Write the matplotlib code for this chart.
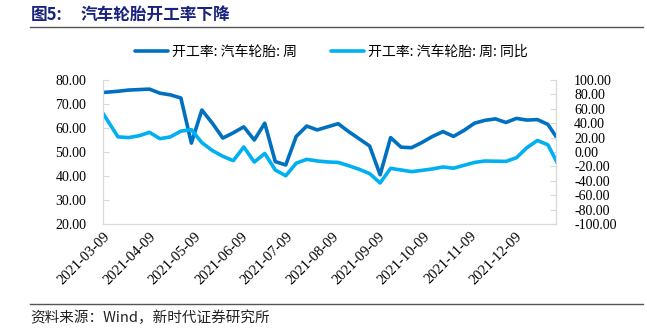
import pandas as pd
import numpy as np
import matplotlib
matplotlib.use('Agg')
from matplotlib import pyplot as plt
from matplotlib.lines import Line2D
import matplotlib.dates as mdates
from matplotlib.ticker import FormatStrFormatter

cjk = ['Noto Sans CJK SC', 'DejaVu Sans']
serif = ['Liberation Serif', 'DejaVu Serif']

# weekly observations (first one on 03-09, then weekly from 03-19)
dates = [pd.Timestamp('2021-03-09')] + list(pd.date_range('2021-03-19', periods=43, freq='7D'))

rate = [74.8, 75.3, 75.8, 76.0, 76.2, 74.5, 73.8, 72.5, 53.7, 67.5,
        62.0, 55.8, 58.0, 60.5, 55.0, 62.0, 46.0, 44.6, 56.5, 60.8,
        59.2, 60.5, 61.8, 58.5, 55.5, 52.5, 40.5, 56.0, 52.0, 51.8,
        54.0, 56.5, 58.5, 56.5, 59.0, 62.0, 63.2, 63.8, 62.3, 64.0,
        63.3, 63.5, 61.5, 55.0]

yoy = [53.7, 21.0, 20.0, 22.5, 27.3, 18.5, 21.0, 29.0, 31.0, 13.0,
       2.0, -6.0, -12.0, 7.0, -14.0, -2.0, -25.0, -33.0, -15.5, -10.2,
       -12.5, -13.8, -14.5, -19.0, -24.0, -30.0, -43.0, -22.7, -25.0, -27.3,
       -25.5, -23.5, -20.8, -22.5, -18.5, -14.5, -12.5, -12.8, -13.0, -8.0,
       6.0, 16.0, 10.0, -18.0]

tick_dates = pd.date_range('2021-03-01', periods=10, freq='MS') + pd.Timedelta(days=8)

fig = plt.figure(figsize=(6.47, 3.33), dpi=100)
ax = fig.add_axes([103/647, 1-224/333, (556-103)/647, (224-80)/333])
ax2 = ax.twinx()

l1, = ax.plot(dates, rate, color='#0070c0', lw=2.6, solid_joinstyle='round', solid_capstyle='round')
l2, = ax2.plot(dates, yoy, color='#00b0f0', lw=2.6, solid_joinstyle='round', solid_capstyle='round')

ax.set_ylim(20, 80)
ax.set_yticks(np.arange(20, 81, 10))
ax2.set_ylim(-100, 100)
ax2.set_yticks(np.arange(-100, 101, 20))
ax.yaxis.set_major_formatter(FormatStrFormatter('%.2f'))
ax2.yaxis.set_major_formatter(FormatStrFormatter('%.2f'))
ax.set_xlim(pd.Timestamp('2021-03-09'), pd.Timestamp('2022-01-05 10:00'))
ax.set_xticks(tick_dates)
ax.xaxis.set_major_formatter(mdates.DateFormatter('%Y-%m-%d'))

for a in (ax, ax2):
    for s in a.spines.values():
        s.set_color('#d9d9d9')
    a.spines['top'].set_visible(False)
ax.tick_params(axis='y', direction='in', length=4, color='#d9d9d9', pad=12, labelsize=10)
ax2.tick_params(axis='y', direction='in', length=4, color='#d9d9d9', pad=13, labelsize=10)
ax.tick_params(axis='x', length=0, pad=4, labelsize=10.5)
for lab in ax.get_xticklabels():
    lab.set_rotation(45)
    lab.set_ha('right')
    lab.set_va('top')
    lab.set_rotation_mode('anchor')
for lab in ax.get_yticklabels() + ax2.get_yticklabels() + ax.get_xticklabels():
    lab.set_family(serif)
    lab.set_color('#000000')
for lab in ax2.get_yticklabels():
    lab.set_ha('left')

fig.legend([l1, l2], ['开工率: 汽车轮胎: 周', '开工率: 汽车轮胎: 周: 同比'],
           loc='center left', bbox_to_anchor=(135/647, 1-52/333), ncol=2, frameon=False,
           prop={'family': cjk, 'size': 10}, handlelength=2.4, columnspacing=2.4,
           handletextpad=0.3, borderpad=0, borderaxespad=0)

fig.text(31/647, 1-15/333, '图5:', fontsize=12, fontweight='bold', color='#1a237e',
         family=cjk, va='center')
fig.text(81/647, 1-15/333, '汽车轮胎开工率下降', fontsize=12, fontweight='bold', color='#1a237e',
         family=cjk, va='center')
fig.add_artist(Line2D([30/647, 643/647], [1-27/333, 1-27/333], color='#555555', lw=1))
fig.add_artist(Line2D([30/647, 643/647], [1-304/333, 1-304/333], color='#555555', lw=1))
fig.text(30/647, 1-318/333, '资料来源：Wind，新时代证券研究所', fontsize=10.5, color='#222222',
         family=cjk, va='center')

fig.savefig('out.png', dpi=100)
